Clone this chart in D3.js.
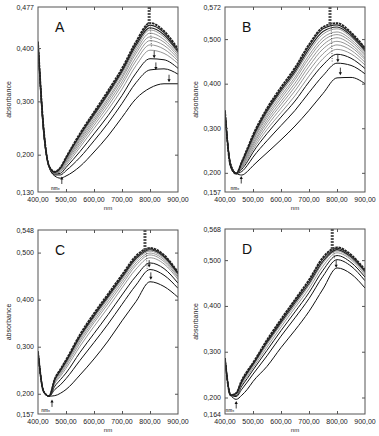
<!DOCTYPE html>
<html>
<head>
<meta charset="utf-8">
<script src="https://cdn.jsdelivr.net/npm/d3@7"></script>
<style>
  body { margin: 0; background: #fff; }
  svg { display: block; font-family: "Liberation Sans", Arial, sans-serif; }
</style>
</head>
<body>
<script>
const nm = [400, 420, 440, 460, 480, 500, 550, 600, 650, 700, 750, 800, 850, 900];

// absorbance spectra, top curve first
const spectraA = [
  [0.412, 0.250, 0.178, 0.168, 0.176, 0.195, 0.240, 0.280, 0.320, 0.362, 0.412, 0.447, 0.432, 0.398],
  [0.412, 0.250, 0.178, 0.168, 0.175, 0.194, 0.238, 0.278, 0.317, 0.359, 0.409, 0.443, 0.429, 0.396],
  [0.411, 0.249, 0.178, 0.167, 0.175, 0.193, 0.236, 0.275, 0.314, 0.356, 0.405, 0.438, 0.425, 0.393],
  [0.411, 0.249, 0.178, 0.167, 0.174, 0.191, 0.233, 0.272, 0.311, 0.352, 0.400, 0.434, 0.421, 0.391],
  [0.410, 0.248, 0.178, 0.167, 0.173, 0.189, 0.230, 0.268, 0.306, 0.347, 0.395, 0.428, 0.416, 0.388],
  [0.410, 0.248, 0.178, 0.166, 0.172, 0.188, 0.227, 0.264, 0.302, 0.343, 0.390, 0.421, 0.411, 0.384],
  [0.409, 0.247, 0.178, 0.166, 0.171, 0.186, 0.223, 0.260, 0.297, 0.337, 0.383, 0.414, 0.405, 0.380],
  [0.408, 0.247, 0.177, 0.165, 0.169, 0.183, 0.219, 0.255, 0.291, 0.331, 0.376, 0.406, 0.398, 0.376],
  [0.407, 0.246, 0.177, 0.165, 0.168, 0.180, 0.214, 0.249, 0.284, 0.323, 0.367, 0.396, 0.390, 0.371],
  [0.405, 0.245, 0.177, 0.164, 0.165, 0.176, 0.206, 0.239, 0.273, 0.311, 0.353, 0.380, 0.378, 0.362],
  [0.403, 0.243, 0.177, 0.162, 0.162, 0.170, 0.195, 0.226, 0.259, 0.296, 0.335, 0.359, 0.361, 0.351],
  [0.400, 0.240, 0.176, 0.160, 0.156, 0.160, 0.178, 0.205, 0.235, 0.270, 0.305, 0.325, 0.333, 0.333]
];
const spectraB = [
  [0.340, 0.215, 0.198, 0.225, 0.255, 0.285, 0.345, 0.392, 0.436, 0.488, 0.527, 0.536, 0.515, 0.480],
  [0.340, 0.215, 0.198, 0.224, 0.253, 0.283, 0.342, 0.388, 0.432, 0.484, 0.523, 0.532, 0.512, 0.478],
  [0.339, 0.216, 0.198, 0.223, 0.251, 0.280, 0.338, 0.384, 0.427, 0.478, 0.517, 0.527, 0.508, 0.474],
  [0.339, 0.216, 0.198, 0.222, 0.249, 0.277, 0.334, 0.379, 0.422, 0.472, 0.511, 0.523, 0.504, 0.471],
  [0.338, 0.216, 0.198, 0.220, 0.247, 0.274, 0.329, 0.373, 0.415, 0.464, 0.503, 0.516, 0.499, 0.467],
  [0.338, 0.217, 0.198, 0.219, 0.244, 0.271, 0.324, 0.367, 0.409, 0.457, 0.496, 0.510, 0.494, 0.463],
  [0.337, 0.217, 0.198, 0.217, 0.241, 0.266, 0.318, 0.360, 0.401, 0.448, 0.487, 0.503, 0.488, 0.458],
  [0.337, 0.217, 0.198, 0.215, 0.238, 0.262, 0.312, 0.353, 0.393, 0.439, 0.478, 0.495, 0.482, 0.454],
  [0.336, 0.218, 0.198, 0.213, 0.234, 0.257, 0.305, 0.345, 0.384, 0.429, 0.467, 0.487, 0.475, 0.448],
  [0.335, 0.218, 0.198, 0.211, 0.230, 0.252, 0.297, 0.335, 0.373, 0.417, 0.456, 0.477, 0.467, 0.442],
  [0.334, 0.219, 0.199, 0.208, 0.225, 0.246, 0.288, 0.325, 0.361, 0.404, 0.442, 0.466, 0.457, 0.434],
  [0.333, 0.220, 0.199, 0.203, 0.217, 0.235, 0.272, 0.306, 0.340, 0.380, 0.418, 0.446, 0.441, 0.422],
  [0.330, 0.222, 0.199, 0.195, 0.203, 0.216, 0.245, 0.274, 0.305, 0.340, 0.378, 0.413, 0.414, 0.400]
];
const spectraC = [
  [0.290, 0.205, 0.195, 0.232, 0.252, 0.272, 0.326, 0.371, 0.412, 0.453, 0.493, 0.510, 0.495, 0.458],
  [0.290, 0.205, 0.195, 0.231, 0.250, 0.270, 0.323, 0.368, 0.409, 0.450, 0.490, 0.508, 0.493, 0.456],
  [0.290, 0.205, 0.195, 0.230, 0.249, 0.268, 0.321, 0.365, 0.406, 0.447, 0.487, 0.506, 0.491, 0.455],
  [0.290, 0.205, 0.195, 0.228, 0.247, 0.266, 0.317, 0.361, 0.402, 0.443, 0.483, 0.503, 0.488, 0.453],
  [0.289, 0.205, 0.195, 0.227, 0.244, 0.263, 0.313, 0.356, 0.397, 0.438, 0.478, 0.499, 0.485, 0.450],
  [0.289, 0.205, 0.195, 0.224, 0.241, 0.259, 0.308, 0.351, 0.391, 0.432, 0.473, 0.495, 0.481, 0.447],
  [0.289, 0.205, 0.195, 0.222, 0.237, 0.254, 0.301, 0.343, 0.383, 0.425, 0.465, 0.489, 0.476, 0.443],
  [0.288, 0.205, 0.195, 0.216, 0.230, 0.244, 0.288, 0.328, 0.368, 0.410, 0.450, 0.478, 0.466, 0.435],
  [0.287, 0.205, 0.195, 0.209, 0.219, 0.232, 0.271, 0.309, 0.348, 0.390, 0.431, 0.464, 0.452, 0.424],
  [0.285, 0.205, 0.195, 0.196, 0.201, 0.209, 0.240, 0.274, 0.312, 0.355, 0.396, 0.438, 0.428, 0.405]
];
const spectraD = [
  [0.286, 0.205, 0.210, 0.238, 0.258, 0.276, 0.326, 0.371, 0.414, 0.457, 0.506, 0.528, 0.512, 0.479],
  [0.286, 0.205, 0.209, 0.236, 0.256, 0.274, 0.323, 0.368, 0.411, 0.454, 0.503, 0.526, 0.510, 0.477],
  [0.286, 0.205, 0.209, 0.234, 0.254, 0.272, 0.320, 0.364, 0.407, 0.449, 0.498, 0.523, 0.507, 0.475],
  [0.285, 0.205, 0.208, 0.232, 0.251, 0.269, 0.316, 0.360, 0.402, 0.445, 0.494, 0.520, 0.504, 0.472],
  [0.285, 0.205, 0.206, 0.229, 0.247, 0.265, 0.310, 0.354, 0.396, 0.438, 0.487, 0.516, 0.501, 0.468],
  [0.284, 0.205, 0.204, 0.225, 0.242, 0.260, 0.303, 0.346, 0.387, 0.429, 0.478, 0.510, 0.495, 0.463],
  [0.284, 0.205, 0.202, 0.218, 0.234, 0.251, 0.291, 0.334, 0.374, 0.416, 0.465, 0.501, 0.487, 0.455],
  [0.282, 0.206, 0.196, 0.205, 0.218, 0.235, 0.268, 0.309, 0.347, 0.388, 0.437, 0.483, 0.470, 0.439]
];

// axis ranges and ticks
const xTicks = [400, 500, 600, 700, 800, 900];
const yDomA = [0.130, 0.477], yTicksA = [0.130, 0.200, 0.300, 0.400, 0.477];
const yDomB = [0.157, 0.572], yTicksB = [0.157, 0.200, 0.300, 0.400, 0.500, 0.572];
const yDomC = [0.157, 0.548], yTicksC = [0.157, 0.200, 0.300, 0.400, 0.500, 0.548];
const yDomD = [0.164, 0.568], yTicksD = [0.164, 0.200, 0.300, 0.400, 0.500, 0.568];

// arrows marking the change (nm, absorbance at arrow tail)
const arrowsA = [[815, 0.395], [821, 0.373], [868, 0.350]];
const arrowsB = [[803, 0.465], [812, 0.436]];
const arrowsC = [[797, 0.484], [803, 0.458]];
const arrowsD = [[797, 0.500]];
const upArrowA = [485, 0.145], upArrowB = [458, 0.176], upArrowC = [450, 0.172], upArrowD = [440, 0.176];
const peakNm = { A: 797, B: 775, C: 782, D: 783 };

const width = 379, height = 436;
const svg = d3.select("body").append("svg")
    .attr("width", width)
    .attr("height", height);

const commaFmt = f => v => d3.format(f)(v).replace(".", ",");

const panels = [
  { id: "A", data: spectraA, yDom: yDomA, yTicks: yTicksA, arrows: arrowsA, up: upArrowA, x0: 38, x1: 178, y0: 7, y1: 192 },
  { id: "B", data: spectraB, yDom: yDomB, yTicks: yTicksB, arrows: arrowsB, up: upArrowB, x0: 225, x1: 365, y0: 7, y1: 192 },
  { id: "C", data: spectraC, yDom: yDomC, yTicks: yTicksC, arrows: arrowsC, up: upArrowC, x0: 38, x1: 178, y0: 230, y1: 414 },
  { id: "D", data: spectraD, yDom: yDomD, yTicks: yTicksD, arrows: arrowsD, up: upArrowD, x0: 225, x1: 365, y0: 229, y1: 414 }
];

panels.forEach(p => {
  const x = d3.scaleLinear().domain([400, 900]).range([p.x0, p.x1]);
  const y = d3.scaleLinear().domain(p.yDom).range([p.y1, p.y0]);
  const g = svg.append("g");

  // clip the spectra to the frame
  const clipId = "clip" + p.id;
  g.append("clipPath").attr("id", clipId)
    .append("rect")
      .attr("x", p.x0).attr("y", p.y0)
      .attr("width", p.x1 - p.x0).attr("height", p.y1 - p.y0);

  const line = d3.line()
      .x((d, i) => x(nm[i]))
      .y(d => y(d))
      .curve(d3.curveMonotoneX);

  const n = p.data.length;
  // draw bottom-up so the dark upper curves sit on top
  const order = p.data.map((d, i) => ({ d, i })).reverse();
  g.append("g")
      .attr("clip-path", `url(#${clipId})`)
      .attr("fill", "none")
    .selectAll("path")
    .data(order)
    .join("path")
      .attr("d", o => line(o.d))
      .attr("stroke", o => o.i < 3 ? "#222" : (o.i >= n - 3 ? "#111" : "#7a7a7a"))
      .attr("stroke-width", o => o.i === 0 ? 1.8 : (o.i < 3 ? 1.1 : (o.i >= n - 3 ? 1 : 0.8)))
      .attr("stroke-dasharray", o => o.i === 0 ? "2.5,0.8" : null);

  // scan marker cluster at the peak
  const pk = peakNm[p.id];
  g.append("line")
      .attr("x1", x(pk)).attr("x2", x(pk))
      .attr("y1", p.y0).attr("y2", y(d3.max(p.data[0])) + 2)
      .attr("stroke", "#555")
      .attr("stroke-width", 3)
      .attr("stroke-dasharray", "2,1");
  g.append("line")
      .attr("x1", x(pk + 4)).attr("x2", x(pk + 8))
      .attr("y1", y(d3.max(p.data[0]))).attr("y2", y(d3.max(p.data[n - 2])))
      .attr("stroke", "#333")
      .attr("stroke-width", 0.8)
      .attr("stroke-dasharray", "1,1.5");

  // down arrows
  p.arrows.forEach(a => {
    const ax = x(a[0]), ay = y(a[1]);
    g.append("line").attr("x1", ax).attr("x2", ax).attr("y1", ay).attr("y2", ay + 6)
      .attr("stroke", "#111").attr("stroke-width", 0.8);
    g.append("path").attr("d", `M${ax - 1.6},${ay + 4.5}L${ax + 1.6},${ay + 4.5}L${ax},${ay + 7.5}Z`)
      .attr("fill", "#111");
  });
  // up arrow near minimum
  const ux = x(p.up[0]), uy = y(p.up[1]);
  g.append("line").attr("x1", ux).attr("x2", ux).attr("y1", uy).attr("y2", uy - 6)
    .attr("stroke", "#111").attr("stroke-width", 0.8);
  g.append("path").attr("d", `M${ux - 1.6},${uy - 4.5}L${ux + 1.6},${uy - 4.5}L${ux},${uy - 7.5}Z`)
    .attr("fill", "#111");
  // smudged scan labels near the minimum
  g.append("text")
      .attr("x", ux - 2).attr("y", p.y1 - 2)
      .attr("text-anchor", "end")
      .attr("font-size", 4.5)
      .attr("font-weight", "bold")
      .attr("fill", "#555")
      .text("nm₀");

  // frame
  g.append("rect")
      .attr("x", p.x0).attr("y", p.y0)
      .attr("width", p.x1 - p.x0).attr("height", p.y1 - p.y0)
      .attr("fill", "none")
      .attr("stroke", "#555")
      .attr("stroke-width", 1);

  // axes: ticks point inward, mirrored on top and right
  const inner = p.yTicks.slice(1, -1);
  g.append("g").attr("transform", `translate(0,${p.y1})`)
    .call(d3.axisTop(x).tickValues(xTicks.slice(1, -1)).tickSize(3).tickFormat(""))
    .call(s => s.select(".domain").remove());
  g.append("g").attr("transform", `translate(0,${p.y0})`)
    .call(d3.axisBottom(x).tickValues(xTicks.slice(1, -1)).tickSize(3).tickFormat(""))
    .call(s => s.select(".domain").remove());
  g.append("g").attr("transform", `translate(${p.x0},0)`)
    .call(d3.axisRight(y).tickValues(inner).tickSize(3).tickFormat(""))
    .call(s => s.select(".domain").remove());
  g.append("g").attr("transform", `translate(${p.x1},0)`)
    .call(d3.axisLeft(y).tickValues(inner).tickSize(3).tickFormat(""))
    .call(s => s.select(".domain").remove());
  g.selectAll(".tick line").attr("stroke", "#555");

  // tick labels
  g.append("g").selectAll("text")
    .data(xTicks)
    .join("text")
      .attr("x", d => x(d))
      .attr("y", p.y1 + 10)
      .attr("text-anchor", "middle")
      .attr("font-size", 7)
      .attr("fill", "#222")
      .text(commaFmt(".2f"));
  g.append("g").selectAll("text")
    .data(p.yTicks)
    .join("text")
      .attr("x", p.x0 - 4)
      .attr("y", d => y(d) + 2.5)
      .attr("text-anchor", "end")
      .attr("font-size", 7)
      .attr("fill", "#222")
      .text(commaFmt(".3f"));

  // axis titles
  g.append("text")
      .attr("x", (p.x0 + p.x1) / 2)
      .attr("y", p.y1 + 18)
      .attr("text-anchor", "middle")
      .attr("font-size", 6)
      .attr("fill", "#222")
      .text("nm");
  g.append("text")
      .attr("transform", `translate(${p.x0 - 27},${(p.y0 + p.y1) / 2}) rotate(-90)`)
      .attr("text-anchor", "middle")
      .attr("font-size", 7)
      .attr("fill", "#222")
      .text("absorbance");

  // panel letter
  g.append("text")
      .attr("x", p.x0 + 17)
      .attr("y", p.y0 + 25)
      .attr("font-size", 14)
      .attr("fill", "#111")
      .text(p.id);
});
</script>
</body>
</html>
